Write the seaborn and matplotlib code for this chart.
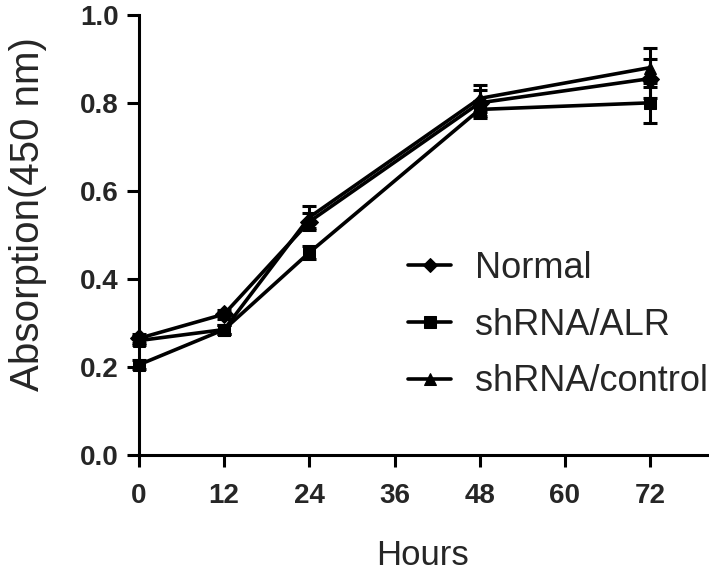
import pandas as pd
import seaborn as sns
from matplotlib import pyplot as plt
import numpy as np

# data (mean +/- SD)
hours = [0, 12, 24, 48, 72]
normal_mean = [0.265, 0.32, 0.53, 0.80, 0.855]
normal_sd = [0.010, 0.010, 0.020, 0.030, 0.045]
alr_mean = [0.205, 0.285, 0.46, 0.785, 0.80]
alr_sd = [0.010, 0.010, 0.015, 0.020, 0.045]
ctrl_mean = [0.26, 0.285, 0.54, 0.81, 0.88]
ctrl_sd = [0.010, 0.010, 0.025, 0.030, 0.045]
groups = ["Normal", "shRNA/ALR", "shRNA/control"]
x_ticks = [0, 12, 24, 36, 48, 60, 72]
y_ticks = [0.0, 0.2, 0.4, 0.6, 0.8, 1.0]

df = pd.DataFrame({
    "hours": hours * 3,
    "absorption": normal_mean + alr_mean + ctrl_mean,
    "sd": normal_sd + alr_sd + ctrl_sd,
    "group": [g for g in groups for _ in hours],
})

sns.set_style("ticks")
plt.rcParams["font.family"] = ["Liberation Sans", "DejaVu Sans"]

fig = plt.figure(figsize=(7.09, 5.77), dpi=100)
ax = fig.add_axes([0.196, 0.2114, 0.801, 0.763])

markers = {"Normal": "D", "shRNA/ALR": "s", "shRNA/control": "^"}
sizes = {"Normal": 7, "shRNA/ALR": 9, "shRNA/control": 9}

# error bars first
for g in groups:
    sub = df[df["group"] == g]
    ax.errorbar(sub["hours"], sub["absorption"], yerr=sub["sd"], fmt="none",
                ecolor="black", elinewidth=2.2, capsize=5, capthick=2.2,
                clip_on=False, zorder=3)

sns.lineplot(data=df, x="hours", y="absorption", hue="group", style="group",
             markers=markers, dashes=False, palette=["black"] * 3,
             linewidth=2.6, markersize=9, markeredgecolor="black",
             errorbar=None, ax=ax, clip_on=False, zorder=4)
for line, g in zip(ax.get_lines()[-3:], groups):
    line.set_markersize(sizes[g])

ax.set_xlim(0, 80)
ax.set_ylim(0, 1.0)
ax.set_xticks(x_ticks)
ax.set_yticks(y_ticks)
ax.set_yticklabels([f"{v:.1f}" for v in y_ticks])
sns.despine(ax=ax)
for s in ["left", "bottom"]:
    ax.spines[s].set_linewidth(2.2)
    ax.spines[s].set_color("black")
ax.tick_params(axis="both", width=2.2, length=8.5, color="black", labelsize=20)
ax.tick_params(axis="x", pad=12)
ax.tick_params(axis="y", pad=6)
for lab in ax.get_xticklabels() + ax.get_yticklabels():
    lab.set_fontweight("bold")

ax.set_xlabel("Hours", fontsize=25, labelpad=21)
ax.set_ylabel("Absorption(450 nm)", fontsize=29)
ax.yaxis.set_label_coords(-0.162, 0.548)

leg = ax.legend(loc="upper left", bbox_to_anchor=(408 / 709, 1 - 251 / 577),
                bbox_transform=fig.transFigure, frameon=False, fontsize=26,
                handlelength=1.2, handletextpad=0.65, labelspacing=0.6,
                borderpad=0, borderaxespad=0)
for h in leg.legend_handles:
    h.set_linewidth(2.6)

fig.savefig("out.png", dpi=100)
